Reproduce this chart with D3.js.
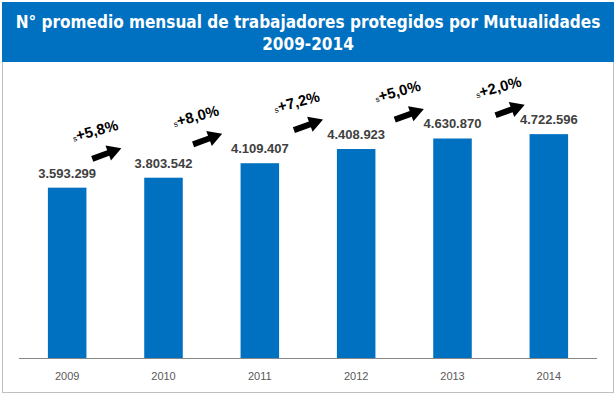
<!DOCTYPE html>
<html><head><meta charset="utf-8">
<script src="https://cdn.jsdelivr.net/npm/d3@7"></script>
<style>html,body{margin:0;padding:0;background:#fff;}svg{display:block;}</style>
</head><body>
<script>
const years = ["2009","2010","2011","2012","2013","2014"];
const values = [3593299, 3803542, 4109407, 4408923, 4630870, 4722596];
const growthLabels = ["+5,8%","+8,0%","+7,2%","+5,0%","+2,0%"];
const titleLines = ["N° promedio mensual de trabajadores protegidos por Mutualidades","2009-2014"];

const W = 616, H = 396;
const svg = d3.select("body").append("svg").attr("width", W).attr("height", H);

// frame
svg.append("rect").attr("x",2.5).attr("y",2.5).attr("width",611).attr("height",390)
  .attr("fill","#fff").attr("stroke","#BFBFBF").attr("stroke-width",1);
svg.append("rect").attr("x",2).attr("y",2).attr("width",612).attr("height",60).attr("fill","#0070C0");

// title
const tl = svg.selectAll("text.title").data(titleLines).join("text").attr("class","title")
  .attr("x",308).attr("y",(d,i)=>28+i*22).attr("text-anchor","middle")
  .attr("fill","#fff").attr("font-family","'DejaVu Sans Condensed','DejaVu Sans',sans-serif")
  .attr("font-weight","bold").attr("font-size",18).text(d=>d);
const w0 = tl.node().getComputedTextLength();
tl.attr("font-size", Math.min(18*585/w0, 20));

const x = d3.scaleBand().domain(years).range([19,597]).paddingInner(0.6).paddingOuter(0.3);
const y = d3.scaleLinear().domain([0,5000000]).range([358,121]);
const fmt = v => d3.format(",")(v).replace(/,/g,".");

svg.selectAll("rect.bar").data(values).join("rect").attr("class","bar")
  .attr("x",(d,i)=>x(years[i])).attr("width",x.bandwidth())
  .attr("y",d=>y(d)).attr("height",d=>y(0)-y(d)).attr("fill","#0070C0");

// axis
const ax = svg.append("g").attr("transform","translate(0,358)").call(d3.axisBottom(x).tickSize(0).tickPadding(14));
ax.select(".domain").attr("stroke","#868686").attr("d","M19,0.5H597");
ax.selectAll("text").attr("font-family","'Liberation Sans',Arial,sans-serif").attr("font-size",11).attr("fill","#595959");

// value labels
svg.selectAll("text.val").data(values).join("text").attr("class","val")
  .attr("x",(d,i)=>x(years[i])+x.bandwidth()/2).attr("y",d=>y(d)-10)
  .attr("text-anchor","middle").attr("font-family","'Liberation Sans',Arial,sans-serif")
  .attr("font-weight","bold").attr("font-size",13).attr("fill","#404040").text(fmt);

// arrows + growth labels
const arrowPath = "M-15,-3 L2,-3 L2,-8 L16,0 L2,8 L2,3 L-15,3 Z";
growthLabels.forEach((g,i)=>{
  const cx = (x(years[i])+x(years[i+1]))/2 + x.bandwidth()/2 + (i-2)*4.5;
  const cy = y(values[i+1]) - 24;
  svg.append("path").attr("d",arrowPath).attr("fill","#000")
    .attr("transform",`translate(${cx},${cy}) rotate(-20)`);
  const t = svg.append("text").attr("transform",`translate(${cx-10},${cy-18}) rotate(-15)`)
    .attr("text-anchor","middle").attr("font-family","'Liberation Sans',Arial,sans-serif").attr("fill","#000");
  t.append("tspan").attr("font-size",8).text("s");
  t.append("tspan").attr("font-size",15).attr("font-weight","bold").text(g);
});
</script>
</body></html>
